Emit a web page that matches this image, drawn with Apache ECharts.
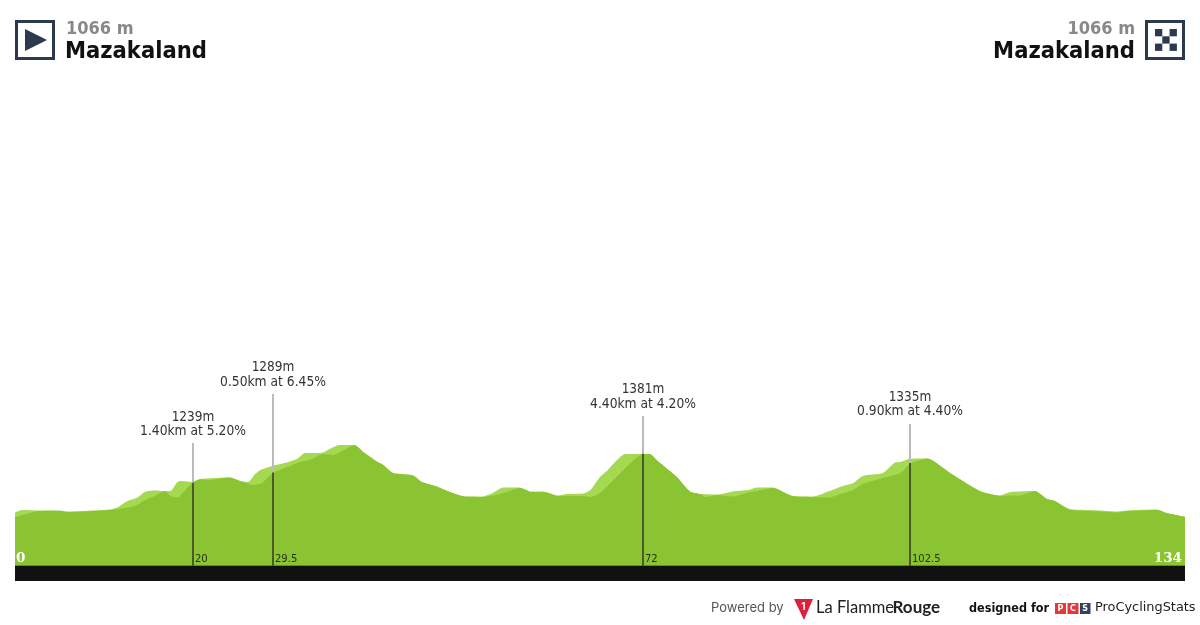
<!DOCTYPE html>
<html><head><meta charset="utf-8">
<style>html,body{margin:0;padding:0;background:#fff}#c{width:1200px;height:625px}</style>
<script src="https://cdn.jsdelivr.net/npm/echarts@6/dist/echarts.min.js"></script>
</head><body><div id="c"></div>
<script>
const lightKm=[0,0.8,2.6,5.2,5.7,6.9,10.9,11.8,12.8,14,14.9,16,17.2,17.8,18.6,19,20.4,21.2,24.6,25.8,26.7,27.5,28.1,29.2,30.9,32.3,33.2,34.9,37.2,38.9,39.9,41.5,42.1,43.3,45.6,46.6,48.3,49.5,51.5,53.6,54.7,55.9,57.8,59,60.5,62.2,63.2,65.1,65.9,67,67.9,69.9,72.7,73.6,75.8,77.3,78.5,80.4,82.2,84,85,86.8,89,91.4,93.3,94.5,96,97.1,99.4,100.8,101.4,102.5,104.5,107.1,110.5,112.8,114,116.8,118.2,119.1,120.8,123.1,126.2,127.4,130.8,131.9,134];
const lightM=[1092,1105,1103,1102,1097,1099,1108,1120,1147,1166,1195,1201,1198,1198,1242,1247,1242,1257,1264,1247,1242,1281,1301,1317,1335,1355,1384,1384,1424,1424,1389,1340,1328,1286,1274,1242,1220,1198,1171,1171,1188,1215,1215,1196,1196,1176,1183,1186,1203,1267,1301,1379,1379,1345,1267,1196,1183,1181,1196,1203,1215,1215,1174,1171,1198,1218,1237,1272,1286,1338,1340,1356,1357,1286,1198,1176,1193,1198,1159,1149,1110,1105,1098,1103,1107,1090,1071];
const darkKm=[0,0.8,1.7,2.6,5.2,6.3,10.9,12.6,14,14.9,16,17.2,17.8,18.7,19.2,20.4,21.2,22.3,24.6,25.8,27.3,28.3,29.5,30.9,32.3,32.6,34.1,35.2,36.4,38.9,39.9,41.5,42.1,43.3,45.6,46.6,48.3,49.5,51.5,53.6,55.6,57.8,58.6,59,60.5,62.2,65.1,65.9,67,68.9,72,72.7,73.6,75.8,77.3,78.5,79,80.4,82.2,84,85,86.8,89,91.4,93.3,94.5,96,97.1,99.4,101.4,102.5,103.7,104.5,107.1,110.5,112.8,114,115.1,115.7,116.8,118.2,119.1,120.8,123.1,126.2,127.4,130.8,131.9,134];
const darkM=[1068,1080,1090,1100,1102,1095,1105,1115,1130,1154,1174,1198,1174,1167,1188,1242,1254,1252,1264,1247,1228,1237,1286,1311,1335,1340,1355,1379,1375,1424,1389,1340,1328,1286,1274,1242,1220,1198,1171,1169,1183,1213,1203,1193,1193,1174,1174,1169,1188,1267,1379,1379,1345,1267,1196,1183,1169,1179,1171,1191,1198,1213,1174,1169,1166,1183,1203,1232,1262,1286,1332,1350,1357,1286,1198,1174,1176,1176,1183,1198,1159,1149,1105,1100,1093,1099,1105,1090,1071];
const climbKm=[20.4,29.6,72,102.5];
const climbKmLabels=['20','29.5','72','102.5'];
const climbTopM=[1239,1289,1381,1335];
const climbPoleM=[1433,1674,1566,1527];
const climbName=['1239m','1289m','1381m','1335m'];
const climbDetail=['1.40km at 5.20%','0.50km at 6.45%','4.40km at 4.20%','0.90km at 4.40%'];
const startPlace='Mazakaland', finishPlace='Mazakaland', startAlt='1066 m', finishAlt='1066 m';
const totalKm=134, baseM=833, maxM=3115;

const pair=(a,b)=>a.map((v,i)=>[v,b[i]]);
const navy='#2c3a4e';
const COND='"DejaVu Sans Condensed","DejaVu Sans"';
const FONT='"DejaVu Sans"';
const climbData=climbKm.map((k,i)=>[k,climbTopM[i],climbPoleM[i],i]);
const chart=echarts.init(document.getElementById('c'),null,{renderer:'canvas'});
function area(name,data,color,z){return {name,type:'line',data,symbol:'none',smooth:0.2,z,
  lineStyle:{width:0},areaStyle:{color,opacity:1},silent:true,animation:false};}
const checks=[];
[[0,0],[2,0],[1,1],[0,2],[2,2]].forEach(([a,b])=>checks.push({type:'rect',shape:{x:1155+a*7.3,y:29+b*7.3,width:7.3,height:7.3},style:{fill:navy}}));
chart.setOption({
 animation:false,
 grid:{left:15,right:15,top:100,height:465.5,containLabel:false},
 xAxis:{type:'value',min:0,max:totalKm,show:false},
 yAxis:{type:'value',min:baseM,max:maxM,show:false},
 series:[
  area('top',pair(lightKm,lightM),'#a5d952',2),
  area('profile',pair(darkKm,darkM),'#8bc432',3),
  {type:'custom',z:5,clip:false,silent:true,data:climbData,
   renderItem(p,api){
    const k=api.value(0),top=api.value(1),pole=api.value(2),i=api.value(3);
    const b=api.coord([k,baseM]),t=api.coord([k,top]),h=api.coord([k,pole]);
    const x=Math.round(b[0]-0.4);
    return {type:'group',children:[
      {type:'line',shape:{x1:x,y1:h[1],x2:x,y2:t[1]},style:{stroke:'#bbbbbb',lineWidth:2}},
      {type:'line',shape:{x1:x,y1:t[1],x2:x,y2:b[1]},style:{stroke:'#4a5a2a',lineWidth:2}},
      {type:'text',style:{x,y:h[1]-26,text:climbName[i],fill:'#333',font:'13.5px '+COND,textAlign:'center',textVerticalAlign:'middle'}},
      {type:'text',style:{x,y:h[1]-12,text:climbDetail[i],fill:'#333',font:'13.7px '+COND,textAlign:'center',textVerticalAlign:'middle'}},
      {type:'text',style:{x:x+2,y:b[1]-6,text:climbKmLabels[i],fill:'#26340f',font:'10px '+FONT,textAlign:'left',textVerticalAlign:'middle'}}
    ]};
   }}
 ],
 graphic:[
  {type:'rect',z:10,shape:{x:15,y:565.5,width:1170,height:15.5},style:{fill:'#111111'}},
  {type:'text',z:10,style:{x:16,y:558.5,text:'0',fill:'#fff',font:'bold 13.5px "DejaVu Serif"',textAlign:'left',textVerticalAlign:'middle'}},
  {type:'text',z:10,style:{x:1182,y:558.5,text:String(totalKm),fill:'#fff',font:'bold 13.5px "DejaVu Serif"',textAlign:'right',textVerticalAlign:'middle'}},
  {type:'rect',shape:{x:16.5,y:21.5,width:37,height:37},style:{fill:'#fff',stroke:navy,lineWidth:3}},
  {type:'polygon',shape:{points:[[25,29],[47,40],[25,51]]},style:{fill:navy}},
  {type:'rect',shape:{x:1146.5,y:21.5,width:37,height:37},style:{fill:'#fff',stroke:navy,lineWidth:3}},
  ...checks,
  {type:'text',style:{x:66,y:29,text:startAlt,fill:'#888',font:'bold 18px '+COND,textAlign:'left',textVerticalAlign:'middle'}},
  {type:'text',style:{x:65,y:52,text:startPlace,fill:'#111',font:'bold 23.5px '+COND,textAlign:'left',textVerticalAlign:'middle'}},
  {type:'text',style:{x:1135,y:29,text:finishAlt,fill:'#888',font:'bold 18px '+COND,textAlign:'right',textVerticalAlign:'middle'}},
  {type:'text',style:{x:1135,y:52,text:finishPlace,fill:'#111',font:'bold 23.5px '+COND,textAlign:'right',textVerticalAlign:'middle'}},
  {type:'text',style:{x:711,y:608,text:'Powered by',fill:'#555',font:'13px Inter',textAlign:'left',textVerticalAlign:'middle'}},
  {type:'polygon',shape:{points:[[794,599],[813,599],[804,620]]},style:{fill:'#e0203a'}},
  {type:'text',style:{x:803.5,y:607,text:'1',fill:'#fff',font:'bold 10px Inter',textAlign:'center',textVerticalAlign:'middle'}},
  {type:'text',style:{x:816,y:608,text:'La Flamme',fill:'#222',font:'400 16.5px Lato',textAlign:'left',textVerticalAlign:'middle'}},
  {type:'text',style:{x:892.5,y:608,text:'Rouge',fill:'#222',font:'bold 17px Lato',textAlign:'left',textVerticalAlign:'middle'}},
  {type:'text',style:{x:969,y:608.5,text:'designed for',fill:'#111',font:'bold 12.5px '+COND,textAlign:'left',textVerticalAlign:'middle'}},
  {type:'rect',shape:{x:1055,y:603,width:11,height:11},style:{fill:'#e5383b'}},
  {type:'rect',shape:{x:1067.5,y:603,width:11,height:11},style:{fill:'#e5383b'}},
  {type:'rect',shape:{x:1080,y:603,width:10.5,height:11},style:{fill:'#33415c'}},
  {type:'text',style:{x:1060.5,y:608.5,text:'P',fill:'#fff',font:'bold 8px '+FONT,textAlign:'center',textVerticalAlign:'middle'}},
  {type:'text',style:{x:1073,y:608.5,text:'C',fill:'#fff',font:'bold 8px '+FONT,textAlign:'center',textVerticalAlign:'middle'}},
  {type:'text',style:{x:1085.2,y:608.5,text:'S',fill:'#fff',font:'bold 8px '+FONT,textAlign:'center',textVerticalAlign:'middle'}},
  {type:'text',style:{x:1095,y:608,text:'ProCyclingStats',fill:'#222',font:'12.9px '+FONT,textAlign:'left',textVerticalAlign:'middle'}}
 ]
});
</script></body></html>
